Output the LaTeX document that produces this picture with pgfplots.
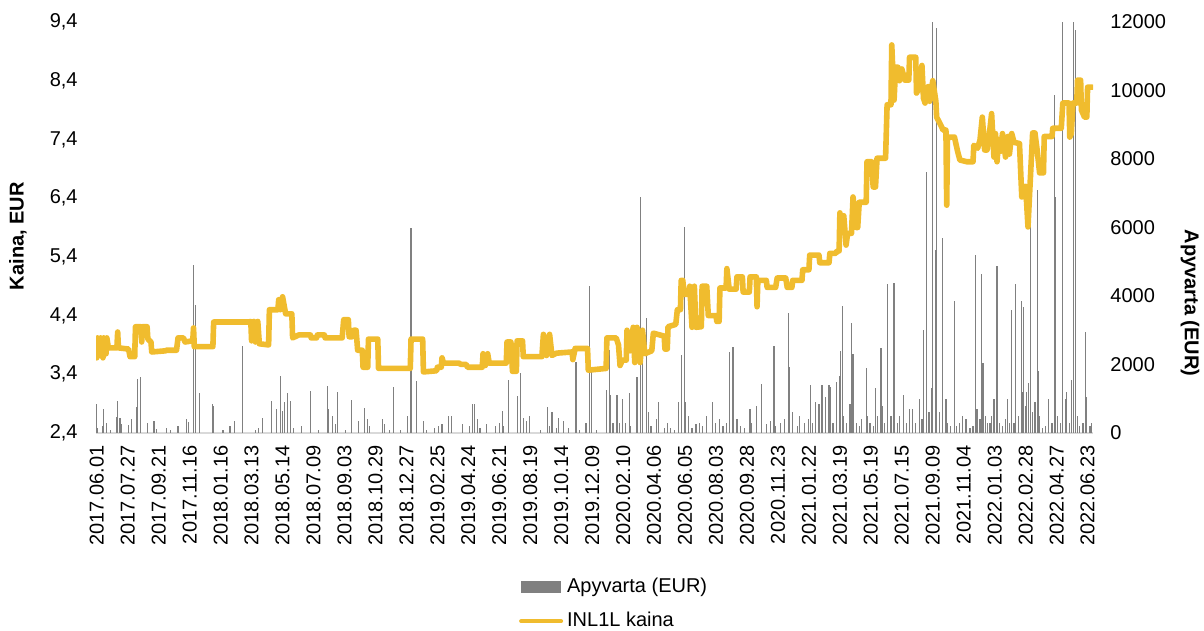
\documentclass[border=0pt]{standalone}
\usepackage{fontspec}
\setmainfont{Liberation Sans}
\usepackage{pgfplots}
\pgfplotsset{compat=1.18}
\usetikzlibrary{calc}
\definecolor{gold}{RGB}{240,188,46}
\definecolor{volgray}{RGB}{128,128,128}
\definecolor{axgray}{RGB}{217,217,217}
\begin{document}
\begin{tikzpicture}
\pgfplotsset{
  base/.style={
    scale only axis, width=498.5pt, height=205.5pt,
    xmin=-1, xmax=1287,
    font=\fontsize{10}{12}\selectfont,
    /pgf/number format/assume math mode=true,
    major tick length=0pt,
    tick style={draw=none},
    every tick label/.append style={inner sep=0pt},
  }
}
\begin{axis}[base, name=vol,
  ymin=0, ymax=12000,
  scaled y ticks=false,
  axis x line*=bottom, axis y line*=right,
  x axis line style={draw=axgray, line width=0.8pt},
  y axis line style={draw=none},
  ytick={0,2000,4000,6000,8000,10000,12000},
  yticklabel style={/pgf/number format/1000 sep={}, /pgf/number format/fixed},
  yticklabel shift=8.5pt,
  xtick={0,40,...,1280},
  xticklabels={2017.06.01,2017.07.27,2017.09.21,2017.11.16,2018.01.16,2018.03.13,2018.05.14,2018.07.09,2018.09.03,2018.10.29,2018.12.27,2019.02.25,2019.04.24,2019.06.21,2019.08.19,2019.10.14,2019.12.09,2020.02.10,2020.04.06,2020.06.05,2020.08.03,2020.09.28,2020.11.23,2021.01.22,2021.03.19,2021.05.19,2021.07.15,2021.09.09,2021.11.04,2022.01.03,2022.02.28,2022.04.27,2022.06.23},
  xticklabel style={rotate=90, anchor=east},
  xticklabel shift=6pt,
]
\addplot[ycomb, draw=volgray, line width=0.6pt, mark=none] coordinates {
(0,850)(1,150)(8,200)(9,700)(13,300)(18,80)(25,470)(27,930)(30,450)(32,250)(41,230)(45,400)(52,760)(53,1580)(57,1640)(66,280)(74,350)(77,120)(90,150)(95,80)(105,200)(116,400)(119,330)(125,4900)(128,3740)(133,1170)(150,850)(151,800)(163,80)(172,200)(178,350)(188,2540)(205,100)(209,150)(214,450)(226,930)(232,700)(237,1660)(240,650)(243,900)(246,1170)(250,940)(254,150)(264,200)(276,1230)(286,80)(298,1370)(299,700)(305,500)(308,250)(311,1200)(321,100)
(329,960)(338,350)(346,730)(350,400)(352,200)(369,400)(372,250)(378,80)(383,1340)(392,80)(401,500)(406,5990)(413,1520)(422,350)(426,100)(436,150)(441,200)(446,250)(454,500)(458,500)(472,250)(481,200)(485,850)(488,850)(492,400)(495,150)(503,250)(515,200)(520,300)(524,640)(525,200)(532,1550)(543,1080)(547,1750)(551,450)(555,350)(559,500)(573,100)(582,760)(585,200)(588,600)(594,150)(596,450)(603,350)(609,150)(619,2070)(624,100)(632,300)(637,4300)(639,1800)(646,80)
(659,1250)(662,2420)(663,1100)(667,300)(671,820)(672,1100)(675,300)(679,1000)(683,300)(688,1170)(690,200)(698,1640)(702,6890)(705,3070)(710,3360)(713,600)(716,200)(723,400)(726,900)(733,150)(737,300)(741,150)(746,100)(751,900)(755,2280)(759,6020)(761,900)(764,500)(769,150)(774,250)(779,300)(783,200)(788,500)(795,900)(799,300)(804,400)(809,200)(813,300)(817,2370)(821,1650)(822,2510)(827,400)(832,200)(837,150)(844,700)(846,300)(852,800)(859,1430)(865,250)(870,350)(875,2540)(877,200)(883,300)(888,400)(894,3500)(895,1930)(899,600)(905,200)(908,500)(914,300)(919,400)
(922,1400)(925,300)(928,900)(933,850)(937,1400)(941,1050)(946,1400)(948,1330)(951,300)(956,1500)(959,1660)(961,2400)(963,3710)(965,500)(969,300)(973,850)(975,3210)(977,2310)(981,300)(985,200)(988,400)(994,1900)(996,500)(999,300)(1003,200)(1006,1300)(1009,500)(1013,2480)(1015,800)(1018,300)(1021,4350)(1022,3400)(1026,500)(1029,3390)(1030,4380)(1034,300)(1037,500)(1042,1100)(1046,300)(1050,700)(1054,700)(1058,300)(1063,1000)(1066,400)(1068,3010)(1072,7620)(1075,600)(1079,1300)(1080,12000)(1083,5340)(1085,11830)(1089,600)(1093,5690)(1097,990)(1099,300)(1103,200)(1108,3850)(1111,200)(1115,300)(1118,500)(1123,400)(1128,150)(1132,200)
(1135,5200)(1137,700)(1141,400)(1143,4650)(1145,2040)(1148,500)(1151,300)(1154,300)(1156,500)(1159,1000)(1163,4880)(1164,900)(1166,300)(1170,200)(1174,400)(1177,1000)(1179,300)(1182,3590)(1185,300)(1187,4350)(1191,500)(1195,3850)(1196,1200)(1197,3680)(1200,800)(1201,1200)(1204,1450)(1206,7180)(1209,600)(1212,900)(1215,7100)(1216,1800)(1218,500)(1222,150)(1226,200)(1230,1000)(1234,300)(1237,9870)(1239,6890)(1241,500)(1245,300)(1248,12000)(1252,1000)(1253,1200)(1257,300)(1259,1550)(1262,11990)(1264,11770)(1267,500)(1270,200)(1274,300)(1277,2950)(1279,1050)(1283,200)(1285,300)
};
\end{axis}
\begin{axis}[base,
  ymin=2.4, ymax=9.4,
  hide x axis,
  axis y line*=left,
  y axis line style={draw=none},
  ytick={2.4,3.4,4.4,5.4,6.4,7.4,8.4,9.4},
  yticklabel style={/pgf/number format/.cd, use comma, fixed, fixed zerofill, precision=1},
  yticklabel shift=9pt,
  legend style={at={(0.424,-0.342)}, anchor=north west, draw=none, fill=none, inner sep=0pt,
    font=\fontsize{10}{12}\selectfont, row sep=4.5pt},
  legend cell align=left,
]
\addlegendimage{legend image code/.code={\fill[volgray] (0pt,-2.75pt) rectangle (19.5pt,2.75pt);}}
\addlegendentry{Apyvarta (EUR)}
\addplot[gold, line width=2.8pt, line join=round, line cap=round, mark=none,
  legend image code/.code={\draw[gold, line width=2pt] (0pt,0pt) -- (20pt,0pt);}] coordinates {
(0,3.68)(1,4.02)(4,3.72)(5,4.02)(8,3.68)(9,4.02)(12,3.75)(13,4.02)(15,3.85)(26,3.85)(27,4.12)(28,3.85)(41,3.83)(43,3.70)(49,3.70)(50,4.21)(57,4.21)(58,3.95)(59,4.21)(65,4.21)(66,4.0)(70,3.95)(71,3.78)(89,3.80)(90,3.81)(103,3.81)(105,4.02)(112,4.02)(114,3.95)(124,3.97)(125,4.19)(126,3.87)(150,3.87)(151,4.29)(196,4.29)(199,4.30)(200,3.97)(203,4.30)(205,3.95)(208,4.30)(210,3.92)(222,3.90)(223,4.50)(234,4.50)(235,4.67)(237,4.50)(240,4.72)(244,4.43)(252,4.43)(253,4.02)(261,4.07)(276,4.07)(277,4.02)(284,4.02)(285,4.07)(294,4.07)(295,4.02)(317,4.02)(319,4.33)(325,4.33)(326,4.04)(330,4.04)(332,4.15)(335,4.15)(337,3.81)(343,3.81)(344,3.52)(350,3.52)(351,4.0)(363,4.0)(364,3.50)(405,3.50)(406,4.0)(421,4.0)(422,3.44)(439,3.46)(440,3.52)(445,3.52)(446,3.68)(448,3.59)(468,3.59)(470,3.57)(477,3.57)(479,3.52)(498,3.52)(499,3.75)(502,3.55)(505,3.75)(507,3.59)(529,3.59)(530,3.95)(535,3.95)(537,3.45)(542,3.45)(543,3.97)(550,3.97)(551,3.70)(575,3.70)(577,4.08)(581,3.72)(585,4.08)(588,3.72)(594,3.76)(614,3.78)(615,3.65)(618,3.84)(634,3.84)(635,3.47)(658,3.50)
(659,4.02)(671,4.02)(674,3.90)(676,3.55)(679,3.64)(684,3.64)(685,4.15)(689,3.80)(693,4.20)(695,3.60)(698,4.20)(702,3.60)(705,4.15)(708,3.75)(717,3.80)(719,4.10)(733,4.05)(734,3.83)(737,3.83)(738,4.21)(748,4.25)(750,4.50)(754,4.50)(755,5.00)(757,5.00)(759,4.76)(765,4.76)(766,4.90)(769,4.20)(772,4.90)(774,4.20)(781,4.21)(782,4.90)(788,4.90)(790,4.40)(800,4.40)(801,4.30)(804,4.30)(805,4.87)(813,4.87)(814,5.20)(817,4.85)(826,4.85)(827,5.06)(834,5.06)(835,4.80)(843,4.80)(844,5.06)(852,5.06)(853,4.55)(854,5.00)(865,5.00)(866,4.88)(877,4.88)(879,5.04)(890,5.04)(892,4.88)(898,4.88)(899,5.00)(911,5.00)(912,5.18)(920,5.18)(921,5.43)(933,5.43)(934,5.30)(946,5.30)(947,5.46)(955,5.46)(956,5.50)(959,5.50)
(960,6.15)(963,5.85)(965,6.10)(968,5.60)(970,5.80)(975,5.80)(977,6.42)(981,5.90)(983,5.90)(985,6.33)(994,6.33)(995,7.02)(1001,7.02)(1003,6.59)(1006,6.59)(1008,7.08)(1019,7.08)(1021,7.99)(1026,7.99)(1027,9.01)(1030,8.07)(1032,8.63)(1035,8.63)(1037,8.40)(1040,8.60)(1044,8.41)(1049,8.41)(1050,8.80)(1058,8.80)(1059,8.19)(1063,8.30)(1066,8.66)(1068,8.10)(1070,8.02)(1074,8.30)(1076,8.05)(1080,8.40)(1084,8.05)(1085,7.78)(1092,7.60)(1093,7.56)(1097,7.56)(1098,6.28)(1099,7.44)(1108,7.44)(1112,7.20)(1115,7.05)(1124,7.02)(1132,7.02)(1133,7.30)(1138,7.25)(1141,7.39)(1144,7.78)(1147,7.22)(1150,7.22)(1154,7.60)(1156,7.84)(1159,7.10)(1161,7.50)(1163,7.02)(1165,7.40)(1168,7.20)(1170,7.50)(1174,7.10)(1177,7.45)(1179,7.15)(1182,7.50)(1185,7.35)(1192,7.33)(1195,6.42)(1200,6.60)(1203,5.91)(1205,6.45)(1209,7.51)(1212,7.51)(1215,7.20)(1218,6.83)(1223,6.83)(1224,7.45)(1234,7.45)(1235,7.59)(1246,7.59)(1248,8.02)(1256,8.02)(1257,7.44)(1259,7.50)(1261,8.02)(1266,8.02)(1267,8.41)(1271,8.41)(1272,7.90)(1276,7.78)(1279,7.78)(1280,8.29)(1286,8.29)
};
\addlegendentry{INL1L kaina}
\end{axis}
\node[rotate=90, font=\bfseries\fontsize{10}{12}\selectfont] at ($(vol.south west)!0.479!(vol.north west)+(-39pt,0)$) {Kaina, EUR};
\node[rotate=-90, font=\bfseries\fontsize{10}{12}\selectfont] at ($(vol.south east)!0.316!(vol.north east)+(48.5pt,0)$) {Apyvarta (EUR)};
\pgfresetboundingbox
\path[use as bounding box] ($(vol.south west)+(-48pt,-99pt)$) rectangle ($(vol.north east)+(55.5pt,11pt)$);
\end{tikzpicture}
\end{document}
